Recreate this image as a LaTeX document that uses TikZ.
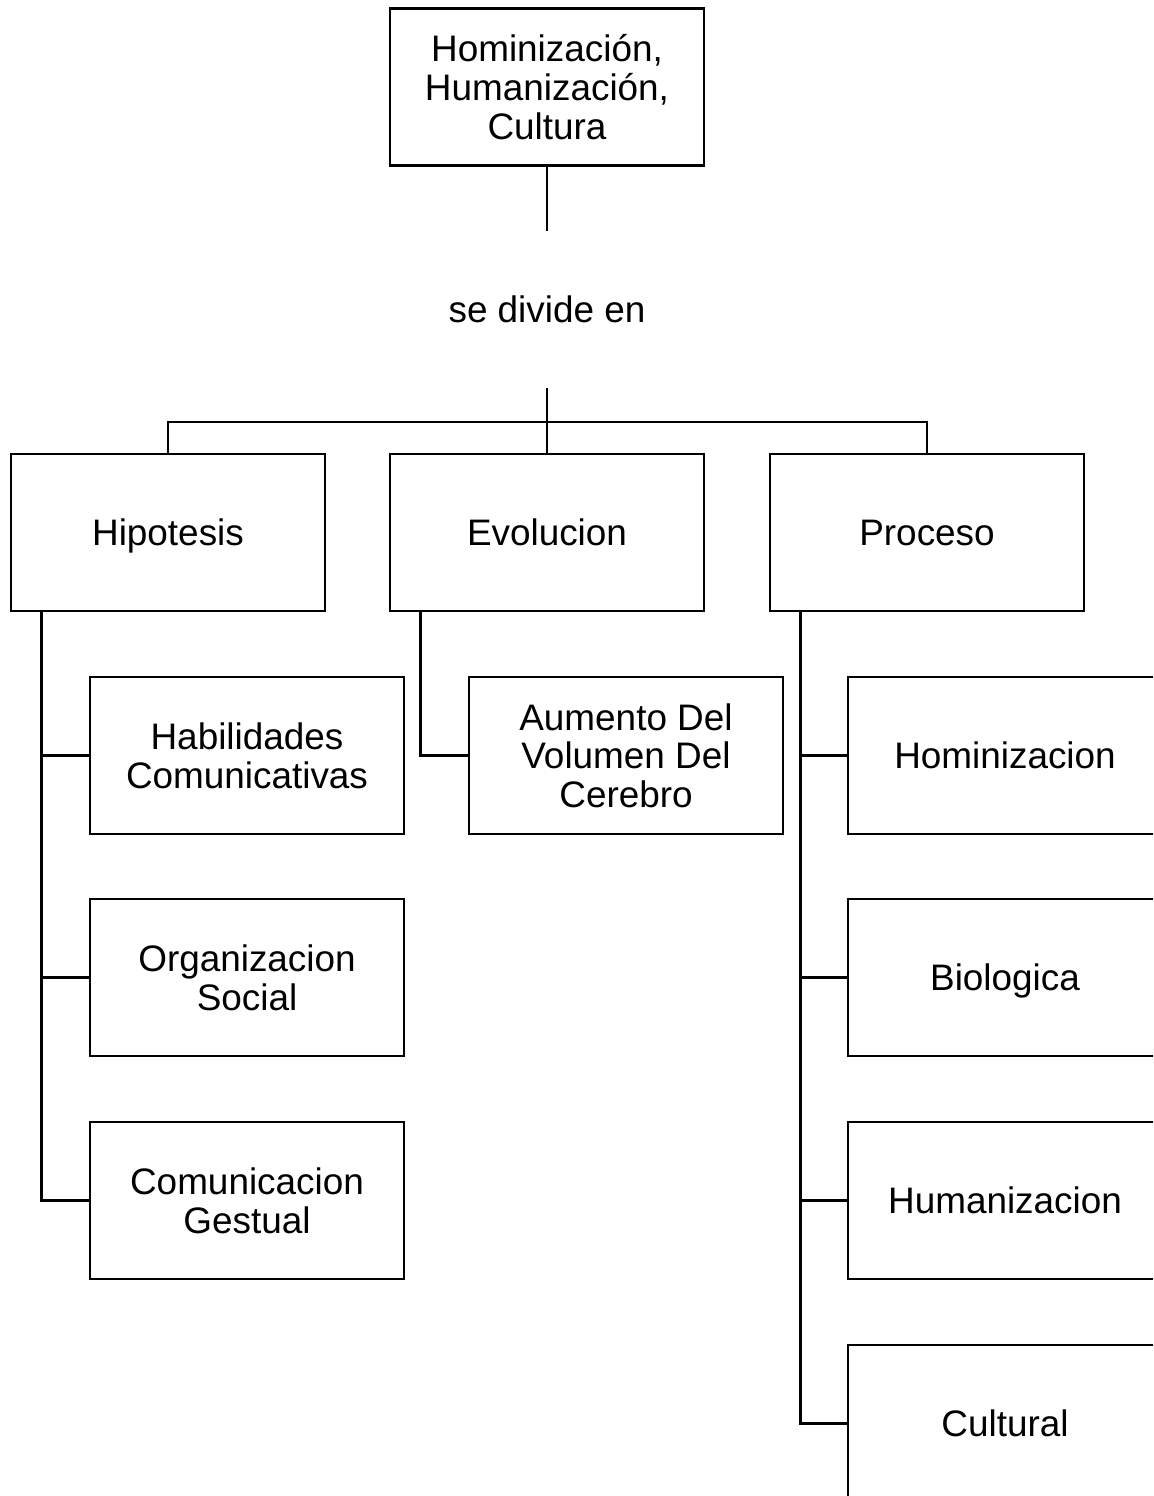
\documentclass[tikz,border=0pt]{standalone}
\usepackage{fontspec}
\setmainfont{Liberation Sans}
\usetikzlibrary{positioning, calc}

\begin{document}
\begin{tikzpicture}[
    x=0.02cm, y=-0.02cm,
    font=\fontsize{21}{22}\selectfont,
    box/.style={draw, line width=1.6pt, minimum width=6.28cm, minimum height=3.14cm, align=center, inner sep=2pt},
    oneline/.style={text height=15.3pt, text depth=0pt},
    gap/.style={minimum width=6.28cm, minimum height=3.14cm, align=center, inner sep=0pt},
    link/.style={line width=1.6pt}
]
    \clip[use as bounding box] (0,0) rectangle (1153,1496);

    % top concept and linking phrase
    \node[box] (root) at (547,87) {Hominización,\\Humanización,\\Cultura};
    \node[gap, oneline] (divide) at (547,309.5) {se divide en};
    \coordinate (split) at (547,422);

    % second level
    \node[box, oneline] (hip) at (168,532.5) {Hipotesis};
    \node[box, oneline] (evo) at (547,532.5) {Evolucion};
    \node[box, oneline] (pro) at (927,532.5) {Proceso};

    % children of Hipotesis
    \node[box] (hab) at (247,755.5) {Habilidades\\Comunicativas};
    \node[box] (org) at (247,977.5) {Organizacion\\Social};
    \node[box] (ges) at (247,1200.5) {Comunicacion\\Gestual};

    % child of Evolucion
    \node[box] (vol) at (626,755.5) {Aumento Del\\Volumen Del\\Cerebro};

    % children of Proceso
    \node[box, oneline] (hom) at (1005,755.5) {Hominizacion};
    \node[box, oneline] (bio) at (1005,977.5) {Biologica};
    \node[box, oneline] (hum) at (1005,1200.5) {Humanizacion};
    \node[box, oneline] (cul) at (1005,1423.5) {Cultural};

    \draw[link] (root) -- (divide);
    \draw[link] (divide) -- (split);
    \draw[link] (split) -| (hip);
    \draw[link] (split) -- (evo);
    \draw[link] (split) -| (pro);

    \foreach \kid in {hab, org, ges}
        \draw[link] ([xshift=0.64cm]hip.south west) |- (\kid.west);
    \draw[link] ([xshift=0.64cm]evo.south west) |- (vol.west);
    \foreach \kid in {hom, bio, hum, cul}
        \draw[link] ([xshift=0.64cm]pro.south west) |- (\kid.west);
\end{tikzpicture}
\end{document}
